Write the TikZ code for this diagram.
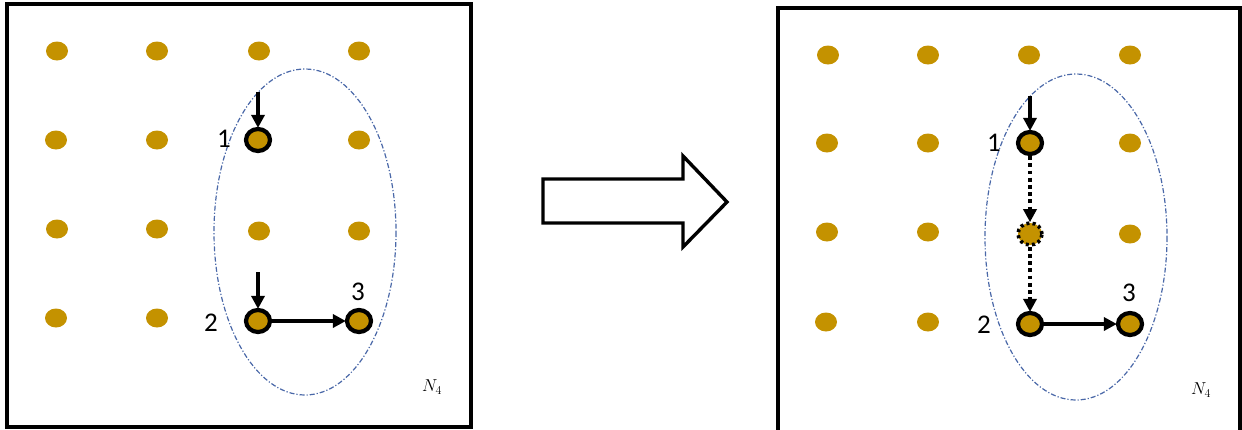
\documentclass[tikz,border=0pt]{standalone}
\usepackage{fontspec}
\setmainfont{Carlito}
\usetikzlibrary{arrows.meta,shapes.geometric}
\definecolor{gold}{RGB}{196,146,0}
\definecolor{ellc}{RGB}{74,104,168}
\begin{document}
\begin{tikzpicture}[x=1pt,y=-1pt,
  dot/.style={ellipse,fill=gold,inner sep=0pt,minimum width=22pt,minimum height=19pt},
  hnode/.style={ellipse,fill=gold,draw=black,line width=4.2pt,inner sep=0pt,minimum width=24pt,minimum height=22pt},
  dnode/.style={ellipse,fill=gold,draw=black,line width=3.6pt,dash pattern=on 3pt off 3.2pt,inner sep=0pt,minimum width=24pt,minimum height=22pt},
  arr/.style={-{Triangle[length=13pt,width=13pt]},line width=3.8pt,shorten >=-1pt},
  darr/.style={arr,dash pattern=on 3.8pt off 3.4pt},
  frame/.style={line width=4pt},
  zone/.style={ellc,line width=1.2pt,dash pattern=on 5pt off 2pt on 1.2pt off 2pt},
  lab/.style={font=\fontsize{27}{27}\selectfont,inner sep=0pt},
  nlab/.style={font=\fontsize{18}{18}\selectfont,inner sep=0pt}
]
\useasboundingbox (0,0) rectangle (1242,429);
% left panel
\draw[frame] (7,4) rectangle (471,427);
\foreach \x/\y [count=\i] in {57/51,157/51,259/51,359/51,
                   56/140,157/140,359/140,
                   57/229,157/229,259/231,359/231,
                   56/318,157/318}
  \node[dot] (L\i) at (\x,\y) {};
\draw[zone] (305,232) ellipse [x radius=91, y radius=163];
\node[hnode] (L1n) at (258,140) {};
\node[hnode] (L2n) at (258,321) {};
\node[hnode] (L3n) at (359,321) {};
\coordinate (L1a) at (258,92);
\coordinate (L2a) at (258,272);
\draw[arr] (L1a) -- (L1n);
\draw[arr] (L2a) -- (L2n);
\draw[arr] (L2n) -- (L3n);
\node[lab] (L1l) at (224,139) {1};
\node[lab] (L2l) at (211,323) {2};
\node[lab] (L3l) at (358,292) {3};
\node[nlab] (LN) at (432,387) {$N_4$};
% big arrow
\draw[line width=3.4pt,line join=miter] (543,179) -- (683,179) -- (683,156) -- (727,202) -- (683,247) -- (683,223) -- (543,223) -- cycle;
% right panel
\draw[frame] (778,440) -- (778,8) -- (1240,8) -- (1240,440);
\foreach \x/\y [count=\i] in {828/55,928/55,1029/55,1130/55,
                   827/143,928/143,1130/143,
                   827/232,928/232,1130/234,
                   826/322,928/322}
  \node[dot] (R\i) at (\x,\y) {};
\draw[zone] (1076,237) ellipse [x radius=91, y radius=163];
\node[hnode] (R1n) at (1030,143) {};
\node[dnode] (Rdn) at (1030,234) {};
\node[hnode] (R2n) at (1030,324) {};
\node[hnode] (R3n) at (1130,324) {};
\coordinate (R1a) at (1030,96);
\draw[arr] (R1a) -- (R1n);
\draw[darr] (R1n) -- (Rdn);
\draw[darr] (Rdn) -- (R2n);
\draw[arr] (R2n) -- (R3n);
\node[lab] (R1l) at (994,143) {1};
\node[lab] (R2l) at (984,325) {2};
\node[lab] (R3l) at (1129,293) {3};
\node[nlab] (RN) at (1201,390) {$N_4$};
\end{tikzpicture}
\end{document}
